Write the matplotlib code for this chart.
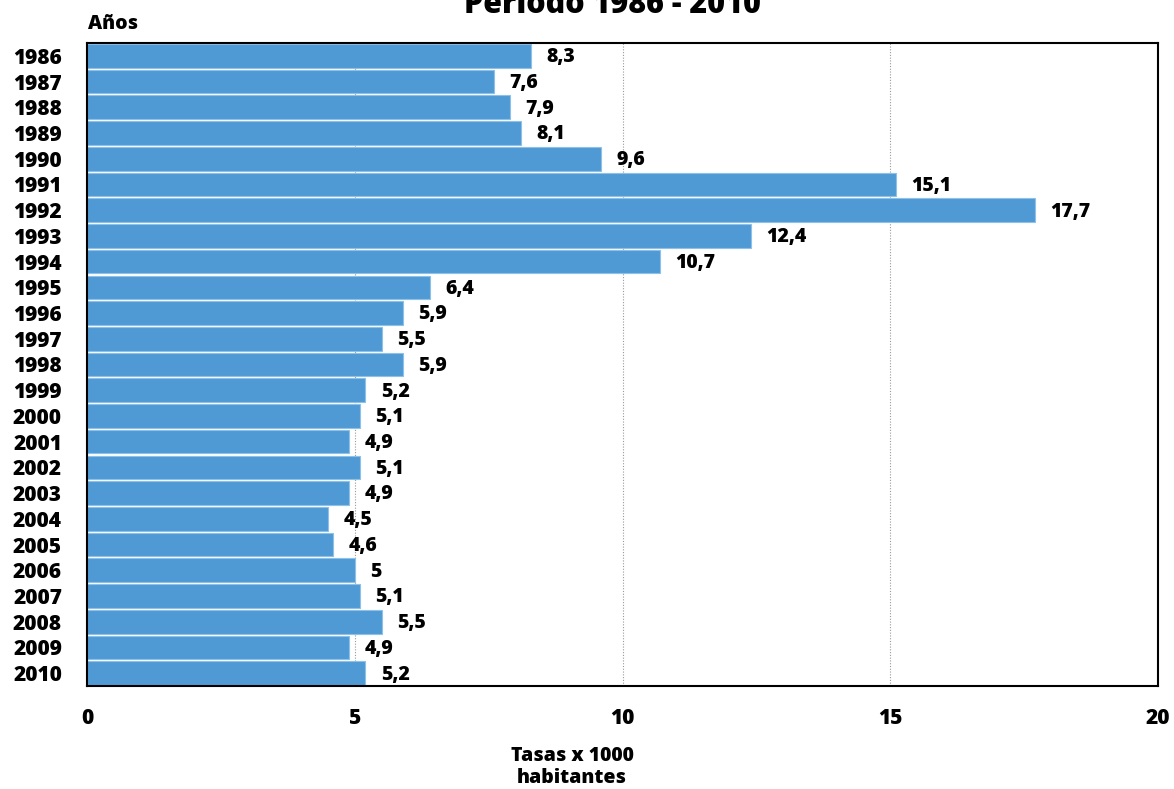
import matplotlib
matplotlib.use("Agg")
import matplotlib.pyplot as plt

years = ["1986", "1987", "1988", "1989", "1990", "1991", "1992", "1993", "1994", "1995",
         "1996", "1997", "1998", "1999", "2000", "2001", "2002", "2003", "2004", "2005",
         "2006", "2007", "2008", "2009", "2010"]
rates = [8.3, 7.6, 7.9, 8.1, 9.6, 15.1, 17.7, 12.4, 10.7, 6.4,
         5.9, 5.5, 5.9, 5.2, 5.1, 4.9, 5.1, 4.9, 4.5, 4.6,
         5.0, 5.1, 5.5, 4.9, 5.2]
xticks = [0, 5, 10, 15, 20]

plt.rcParams['font.family'] = ['Open Sans', 'DejaVu Sans']
FW = "heavy"

fig = plt.figure(figsize=(11.74, 7.89), dpi=100)
W, H = 1174, 789
ax = fig.add_axes([87 / W, 1 - 686 / H, (1158 - 87) / W, (686 - 43) / H])

pos = list(range(len(years)))
ax.barh(pos, rates, height=0.92, color="#4F9AD5", edgecolor="#8EC0E8", linewidth=0.8, zorder=2)
ax.set_ylim(len(years) - 0.5, -0.5)
ax.set_xlim(0, 20)
ax.set_yticks(pos)
ax.set_yticklabels(years, fontsize=15, fontweight=FW)
ax.set_xticks(xticks)
ax.set_xticklabels([str(t) for t in xticks], fontsize=15, fontweight=FW)
ax.tick_params(axis="both", length=0)
ax.tick_params(axis="x", pad=16)
ax.tick_params(axis="y", pad=18)
ax.grid(axis="x", color="#999999", linestyle=(0, (1, 1.5)), linewidth=0.8, zorder=0)
ax.set_axisbelow(True)
for s in ax.spines.values():
    s.set_linewidth(1.5)
    s.set_color("black")

for i, v in enumerate(rates):
    lbl = ("%g" % v).replace(".", ",")
    ax.annotate(lbl, (v, i), xytext=(11, -1), textcoords="offset points",
                va="center", ha="left", fontsize=14, fontweight=FW)

fig.text(612 / W, 1 - 5 / H, "Período 1986 - 2010", ha="center", va="center",
         fontsize=22, fontweight=FW)
fig.text(88 / W, 1 - 24 / H, "Años", ha="left", va="center", fontsize=14, fontweight=FW)
fig.text(572 / W, 1 - 767 / H, "Tasas x 1000\nhabitantes", ha="center", va="center",
         fontsize=14, fontweight=FW, linespacing=1.15)

fig.savefig("out.png", dpi=100)
